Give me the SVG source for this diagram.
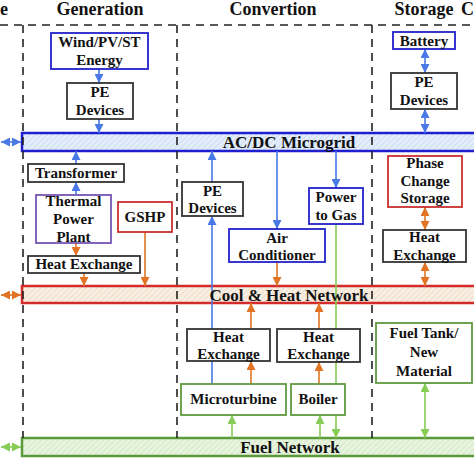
<svg xmlns="http://www.w3.org/2000/svg" width="474" height="474" viewBox="0 0 474 474">
<style>
.t{font-family:"Liberation Serif","Times New Roman",serif;font-weight:bold;fill:#111;text-anchor:middle}
.bx{font-size:15px}
.ti{font-size:18px}
.bt{font-size:17px}
.box{fill:#fff;stroke-width:1.8}
.k{stroke:#333}
.bl{stroke:#2222c8}
.rd{stroke:#c83030}
.gr{stroke:#5f9a40}
.pu{stroke:#7755b5}
.dash{stroke:#222;stroke-width:1.6;stroke-dasharray:8,6;fill:none}
.cb{stroke:#4a78e6;stroke-width:1.6;fill:none}
.co{stroke:#e07424;stroke-width:1.6;fill:none}
.cg{stroke:#86cc55;stroke-width:1.6;fill:none}
</style>
<defs>
<pattern id="hb" width="4" height="4" patternUnits="userSpaceOnUse" patternTransform="rotate(45)"><rect width="4" height="4" fill="#e4eefb"/><line x1="0" y1="0" x2="0" y2="4" stroke="#c4d6f0" stroke-width="1.5"/></pattern>
<pattern id="ho" width="4" height="4" patternUnits="userSpaceOnUse" patternTransform="rotate(45)"><rect width="4" height="4" fill="#f8eee2"/><line x1="0" y1="0" x2="0" y2="4" stroke="#ead8c4" stroke-width="1.5"/></pattern>
<pattern id="hg" width="4" height="4" patternUnits="userSpaceOnUse" patternTransform="rotate(45)"><rect width="4" height="4" fill="#e8f4df"/><line x1="0" y1="0" x2="0" y2="4" stroke="#cfe6bf" stroke-width="1.5"/></pattern>
<marker id="ab" viewBox="0 0 10 10" refX="10" refY="5" markerWidth="9" markerHeight="9" markerUnits="userSpaceOnUse" orient="auto-start-reverse"><path d="M0,0 L10,5 L0,10 z" fill="#4a78e6"/></marker>
<marker id="ao" viewBox="0 0 10 10" refX="10" refY="5" markerWidth="9" markerHeight="9" markerUnits="userSpaceOnUse" orient="auto-start-reverse"><path d="M0,0 L10,5 L0,10 z" fill="#e07424"/></marker>
<marker id="ag" viewBox="0 0 10 10" refX="10" refY="5" markerWidth="9" markerHeight="9" markerUnits="userSpaceOnUse" orient="auto-start-reverse"><path d="M0,0 L10,5 L0,10 z" fill="#86cc55"/></marker>
</defs>
<rect width="474" height="474" fill="#fff"/>
<g id="titles">
<text class="t ti" x="0" y="15" style="text-anchor:start">e</text>
<text class="t ti" x="100" y="15">Generation</text>
<text class="t ti" x="273" y="15">Convertion</text>
<text class="t ti" x="424" y="15">Storage</text>
<text class="t ti" x="474" y="15" style="text-anchor:end">C</text>
</g>
<g id="bars">
<rect id="microgrid" x="22" y="133" width="460" height="18" fill="url(#hb)" stroke="#1f1fd0" stroke-width="2.5"/>
<rect id="coolheat" x="22" y="286" width="460" height="17" fill="url(#ho)" stroke="#d42a2a" stroke-width="2.5"/>
<rect id="fuel" x="22" y="438" width="460" height="18" fill="url(#hg)" stroke="#5a9a3a" stroke-width="2.5"/>
</g>
<g id="sections">
<line class="dash" x1="0" y1="25" x2="474" y2="25"/>
<line class="dash" x1="23" y1="25" x2="23" y2="438"/>
<line class="dash" x1="177" y1="25" x2="177" y2="438"/>
<line class="dash" x1="372" y1="25" x2="372" y2="438"/>
</g>
<g id="connectors">
<line class="cb" x1="1" y1="142" x2="21" y2="142" marker-start="url(#ab)" marker-end="url(#ab)"/>
<line class="co" x1="1" y1="295" x2="21" y2="295" marker-start="url(#ao)" marker-end="url(#ao)"/>
<line class="cg" x1="1" y1="447" x2="21" y2="447" marker-start="url(#ag)" marker-end="url(#ag)"/>
<line class="cb" x1="99" y1="69" x2="99" y2="83" marker-end="url(#ab)"/>
<line class="cb" x1="99" y1="119" x2="99" y2="133" marker-end="url(#ab)"/>
<line class="cb" x1="76" y1="164" x2="76" y2="151" marker-end="url(#ab)"/>
<line class="cb" x1="76" y1="195" x2="76" y2="182" marker-end="url(#ab)"/>
<line class="co" x1="76" y1="243" x2="76" y2="256" marker-end="url(#ao)"/>
<line class="co" x1="84" y1="273" x2="84" y2="286" marker-end="url(#ao)"/>
<line class="co" x1="145" y1="232" x2="145" y2="286" marker-end="url(#ao)"/>
<line class="cb" x1="212" y1="182" x2="212" y2="151" marker-end="url(#ab)"/>
<line class="cb" x1="212" y1="384" x2="212" y2="216" marker-end="url(#ab)" stroke="#6a88d8"/>
<line class="cb" x1="277" y1="151" x2="277" y2="229" marker-end="url(#ab)"/>
<line class="co" x1="277" y1="262" x2="277" y2="286" marker-end="url(#ao)"/>
<line class="cb" x1="336" y1="151" x2="336" y2="188" marker-end="url(#ab)"/>
<line class="cg" x1="336" y1="224" x2="336" y2="438" marker-end="url(#ag)"/>
<line class="co" x1="251" y1="329" x2="251" y2="303" marker-end="url(#ao)"/>
<line class="co" x1="251" y1="384" x2="251" y2="361" marker-end="url(#ao)"/>
<line class="co" x1="319" y1="329" x2="319" y2="303" marker-end="url(#ao)"/>
<line class="co" x1="319" y1="384" x2="319" y2="362" marker-end="url(#ao)"/>
<line class="cg" x1="232" y1="438" x2="232" y2="415" marker-end="url(#ag)"/>
<line class="cg" x1="320" y1="438" x2="320" y2="415" marker-end="url(#ag)"/>
<line class="cb" x1="425" y1="49" x2="425" y2="73" marker-start="url(#ab)" marker-end="url(#ab)"/>
<line class="cb" x1="425" y1="109" x2="425" y2="133" marker-start="url(#ab)" marker-end="url(#ab)"/>
<line class="co" x1="425" y1="207" x2="425" y2="230" marker-start="url(#ao)" marker-end="url(#ao)"/>
<line class="co" x1="425" y1="262" x2="425" y2="286" marker-start="url(#ao)" marker-end="url(#ao)"/>
<line class="cg" x1="425" y1="383" x2="425" y2="438" marker-start="url(#ag)" marker-end="url(#ag)"/>
</g>
<g id="wind"><rect class="box bl" x="51" y="33" width="97" height="36"/><text class="t bx" x="99.5" y="47">Wind/PV/ST</text><text class="t bx" x="99.5" y="65">Energy</text></g>
<g id="pe-gen"><rect class="box k" x="67" y="83" width="66" height="36"/><text class="t bx" x="100" y="97">PE</text><text class="t bx" x="100" y="115">Devices</text></g>
<g id="transformer"><rect class="box k" x="28" y="164" width="96" height="18"/><text class="t bx" x="76" y="178">Transformer</text></g>
<g id="thermal"><rect class="box pu" x="36" y="195" width="75" height="48"/><text class="t bx" x="73.5" y="206">Thermal</text><text class="t bx" x="73.5" y="224">Power</text><text class="t bx" x="73.5" y="242">Plant</text></g>
<g id="gshp"><rect class="box rd" x="118" y="202" width="54" height="30"/><text class="t bx" x="145" y="222">GSHP</text></g>
<g id="he-gen"><rect class="box k" x="28" y="256" width="112" height="17"/><text class="t bx" x="84" y="269">Heat Exchange</text></g>
<g id="pe-conv"><rect class="box k" x="182" y="182" width="61" height="34"/><text class="t bx" x="212.5" y="196">PE</text><text class="t bx" x="212.5" y="213">Devices</text></g>
<g id="aircon"><rect class="box bl" x="229" y="229" width="96" height="33"/><text class="t bx" x="277" y="243">Air</text><text class="t bx" x="277" y="260">Conditioner</text></g>
<g id="p2g"><rect class="box bl" x="309" y="188" width="54" height="36"/><text class="t bx" x="336" y="202">Power</text><text class="t bx" x="336" y="220">to Gas</text></g>
<g id="he-conv1"><rect class="box k" x="187" y="329" width="83" height="32"/><text class="t bx" x="228.5" y="342">Heat</text><text class="t bx" x="228.5" y="359">Exchange</text></g>
<g id="he-conv2"><rect class="box k" x="277" y="329" width="83" height="33"/><text class="t bx" x="318.5" y="342">Heat</text><text class="t bx" x="318.5" y="359">Exchange</text></g>
<g id="microturbine"><rect class="box gr" x="181" y="384" width="105" height="31"/><text class="t bx" x="233.5" y="404">Microturbine</text></g>
<g id="boiler"><rect class="box gr" x="291" y="384" width="54" height="31"/><text class="t bx" x="318" y="404">Boiler</text></g>
<g id="battery"><rect class="box bl" x="393" y="32" width="62" height="17"/><text class="t bx" x="424" y="46">Battery</text></g>
<g id="pe-sto"><rect class="box k" x="391" y="73" width="66" height="36"/><text class="t bx" x="424" y="87">PE</text><text class="t bx" x="424" y="105">Devices</text></g>
<g id="pcs"><rect class="box rd" x="388" y="156" width="74" height="51"/><text class="t bx" x="425" y="168">Phase</text><text class="t bx" x="425" y="186">Change</text><text class="t bx" x="425" y="203">Storage</text></g>
<g id="he-sto"><rect class="box k" x="383" y="230" width="83" height="32"/><text class="t bx" x="424.5" y="242">Heat</text><text class="t bx" x="424.5" y="260">Exchange</text></g>
<g id="fueltank"><rect class="box gr" x="376" y="323" width="96" height="60"/><text class="t bx" x="424" y="338">Fuel Tank/</text><text class="t bx" x="424" y="357">New</text><text class="t bx" x="424" y="376">Material</text></g>
<g id="bar-labels">
<text class="t bt" x="289" y="148">AC/DC Microgrid</text>
<text class="t bt" x="289" y="301">Cool &amp; Heat Network</text>
<text class="t bt" x="290" y="453">Fuel Network</text>
</g>
</svg>
